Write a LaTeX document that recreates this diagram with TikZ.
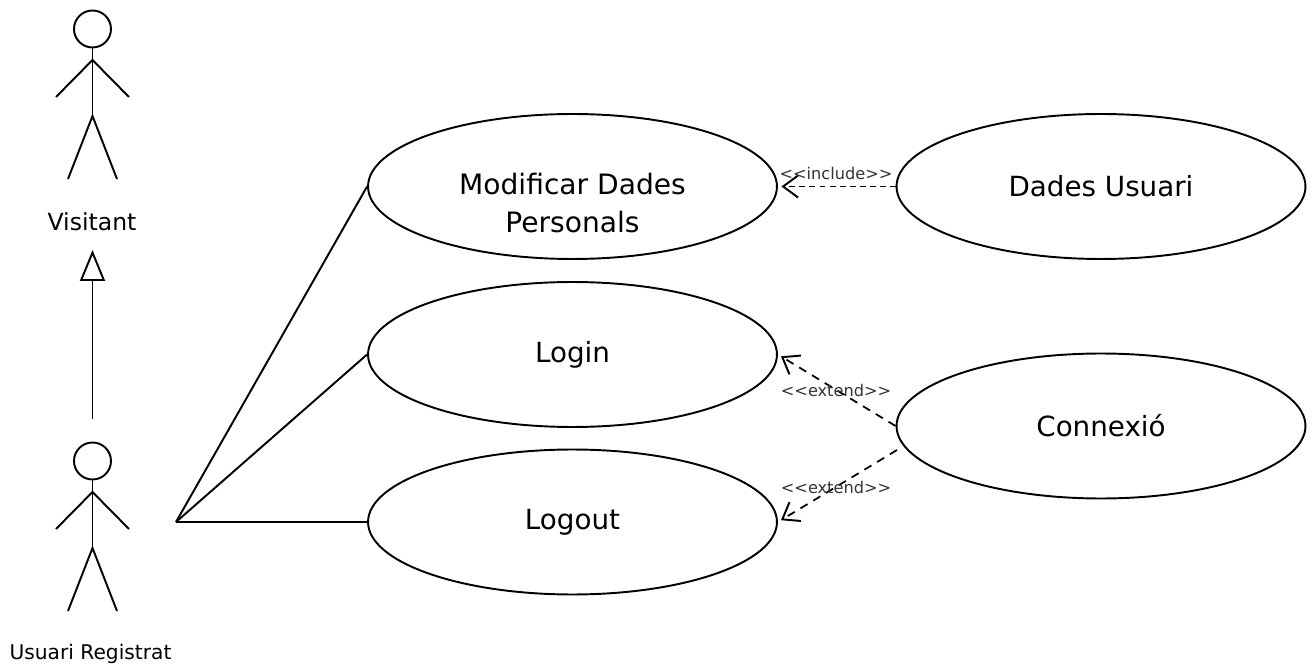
\documentclass[tikz,border=0pt]{standalone}
\usepackage{fontspec}
\setmainfont{DejaVu Sans}
\usetikzlibrary{shapes.geometric}
\usetikzlibrary{arrows.meta}
\tikzset{usecase/.style={draw,ellipse,line width=1.1pt,inner sep=0pt,minimum width=8.18cm,minimum height=2.9cm,font=\fontsize{15.8}{21}\selectfont}}
\tikzset{actorname/.style={inner sep=0pt,font=\fontsize{11.5}{14}\selectfont}}
\tikzset{stereotype/.style={inner sep=0pt,text=black!80,font=\fontsize{9.2}{11}\selectfont}}
\tikzset{assoc/.style={line width=1.1pt}}
\tikzset{depend/.style={line width=1pt,dash pattern=on 4.7pt off 3.8pt,shorten >=2pt,-{Straight Barb[length=.3cm,width=.44cm,line width=1.1pt]}}}
\tikzset{inherit/.style={line width=1.1pt,-{Triangle[open,length=.62cm,width=.5cm,fill=white]}}}
\newcommand{\actorfig}[1]{
\begin{scope}[shift={(0,#1)},line width=1.1pt]
\draw (92.5,29) circle (18.5);
\draw (92.5,47.5) -- (92.5,116);
\draw (56,97) -- (92.5,60) -- (129,97);
\draw (68,179) -- (92.5,116) -- (117,179);
\end{scope}}
\begin{document}
\begin{tikzpicture}[x=.02cm,y=-.02cm]
\useasboundingbox (0,0) rectangle (1314,668);
\actorfig{0}
\actorfig{432}
\node[actorname,font=\fontsize{13.4}{16}\selectfont] (Visitant) at (92,222) {Visitant};
\node[actorname] (Registrat) at (90.5,654) {Usuari Registrat};
\coordinate (GenFrom) at (92.5,419);
\coordinate (GenTo) at (92.5,250);
\draw[inherit] (GenFrom) -- (GenTo);
\node[usecase] (Modificar) at (572.5,186.5) {};
\node[inner sep=0pt,align=center,font=\fontsize{16}{21.5}\selectfont] (ModificarText) at (572.5,203) {Modificar Dades\\Personals};
\node[usecase] (Login) at (572.5,354.5) {Login};
\node[usecase] (Logout) at (572.5,522) {Logout};
\node[usecase] (Dades) at (1101,186.5) {Dades Usuari};
\node[usecase] (Connexio) at (1101,426) {Connexió};
\coordinate (Hand) at (176,522);
\coordinate (ConnexioOut) at (897,450);
\draw[assoc] (Hand) -- (Modificar.west);
\draw[assoc] (Hand) -- (Login.west);
\draw[assoc] (Hand) -- (Logout.west);
\draw[depend,dash pattern=on 3.4pt off 2.3pt] (Dades.west) -- (Modificar.east);
\draw[depend] (Connexio.west) -- (Login.east);
\draw[depend] (ConnexioOut) -- (Logout.east);
\node[stereotype] (Include) at (836,173) {<{}<include>{}>};
\node[stereotype] (ExtendA) at (836,390) {<{}<extend>{}>};
\node[stereotype] (ExtendB) at (836,487) {<{}<extend>{}>};
\end{tikzpicture}
\end{document}
